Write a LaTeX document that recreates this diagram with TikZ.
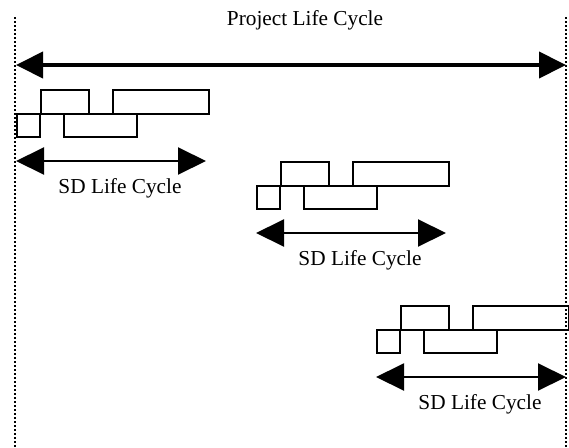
\documentclass[tikz,border=0pt]{standalone}
\usepackage{fontspec}
\setmainfont{Liberation Serif}
\usetikzlibrary{arrows.meta}
\begin{document}
\begin{tikzpicture}[x=1pt,y=-1pt,
  blk/.style={draw,line width=1.6pt,inner sep=0pt,anchor=north west},
  guide/.style={line width=1.5pt,dash pattern=on 2pt off 2pt},
  bigarrow/.style={line width=4pt,{Triangle[length=27pt,width=26pt]}-{Triangle[length=27pt,width=26pt]}},
  sdarrow/.style={line width=2pt,{Triangle[length=28pt,width=27pt]}-{Triangle[length=28pt,width=27pt]}},
  lbl/.style={font=\fontsize{21.3}{25}\selectfont,inner sep=0pt,anchor=base}]
\useasboundingbox (0,0) rectangle (569,447);
% guide lines
\coordinate (lt) at (15,17);
\coordinate (lb) at (15,447);
\coordinate (rt) at (566,17);
\coordinate (rb) at (566,447);
\draw[guide] (lt) -- (lb);
\draw[guide] (rt) -- (rb);
% project life cycle
\node[lbl] (title) at (305,25) {Project Life Cycle};
\coordinate (pl) at (16,65);
\coordinate (pr) at (566,65);
\draw[bigarrow] (pl) -- (pr);
% SD life cycles
\foreach \g/\ox/\oy in {1/16/89, 2/256/161, 3/376/305}{
  \node[blk,minimum width=48pt,minimum height=24pt] (a\g) at (\ox+24,\oy) {};
  \node[blk,minimum width=96pt,minimum height=24pt] (b\g) at (\ox+96,\oy) {};
  \node[blk,minimum width=23pt,minimum height=23pt] (c\g) at (\ox,\oy+24) {};
  \node[blk,minimum width=73pt,minimum height=23pt] (d\g) at (\ox+47,\oy+24) {};
  \coordinate (sl\g) at (\ox,\oy+72);
  \coordinate (sr\g) at (\ox+190,\oy+72);
  \draw[sdarrow] (sl\g) -- (sr\g);
  \node[lbl] (t\g) at (\ox+104,\oy+104) {SD Life Cycle};
}
\end{tikzpicture}
\end{document}
